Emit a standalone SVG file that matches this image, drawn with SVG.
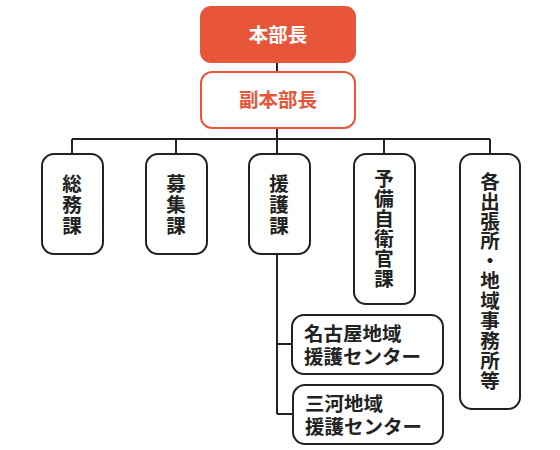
<svg xmlns="http://www.w3.org/2000/svg" width="560" height="450" viewBox="0 0 560 450">
<style>
.box{fill:#fff;stroke:#222;stroke-width:2}
.t{font-family:"Noto Sans CJK JP","Noto Sans",sans-serif;font-weight:bold;font-size:19.5px;fill:#222}
.c{text-anchor:middle}
.v{writing-mode:vertical-rl;text-anchor:middle}
.ln{fill:none;stroke:#222;stroke-width:2}
</style>
<rect width="560" height="450" fill="#fff"/>
<g id="connectors">
<path class="ln" d="M277 63V71M277 128V139M72 139H490M72 139V153M176 139V153M277 139V153M384 139V153M490 139V153"/>
<path class="ln" d="M277 254V414M277 344H292M277 414H293"/>
</g>
<g id="honbucho">
<rect x="200" y="6" width="156" height="57" rx="11" fill="#E8563A"/>
<text class="t c" x="278" y="42" style="fill:#fff">本部長</text>
</g>
<g id="fukuhonbucho">
<rect x="201" y="72" width="154" height="56" rx="11" fill="#fff" stroke="#E8563A" stroke-width="2"/>
<text class="t c" x="278" y="107" style="fill:#E8563A">副本部長</text>
</g>
<g id="somuka">
<rect class="box" x="42" y="154" width="61" height="100" rx="12"/>
<text class="t v" x="72" y="205" style="letter-spacing:1.5px">総務課</text>
</g>
<g id="boshuka">
<rect class="box" x="146" y="154" width="61" height="100" rx="12"/>
<text class="t v" x="176" y="205" style="letter-spacing:1.5px">募集課</text>
</g>
<g id="engoka">
<rect class="box" x="249" y="154" width="61" height="100" rx="12"/>
<text class="t v" x="279" y="205" style="letter-spacing:1.5px">援護課</text>
</g>
<g id="yobijieikanka">
<rect class="box" x="354" y="154" width="61" height="150" rx="12"/>
<text class="t v" x="384" y="229" style="letter-spacing:0.5px">予備自衛官課</text>
</g>
<g id="shutchojo">
<rect class="box" x="460" y="154" width="60" height="255" rx="12"/>
<text class="t v" x="490" y="281" style="letter-spacing:0.4px">各出張所・地域事務所等</text>
</g>
<g id="nagoya">
<rect class="box" x="292" y="315" width="151" height="59" rx="12"/>
<text class="t" x="304" y="341"><tspan x="304">名古屋地域</tspan><tspan x="304" dy="23">援護センター</tspan></text>
</g>
<g id="mikawa">
<rect class="box" x="293" y="385" width="150" height="59" rx="12"/>
<text class="t" x="305" y="411"><tspan x="305">三河地域</tspan><tspan x="305" dy="23">援護センター</tspan></text>
</g>
</svg>
